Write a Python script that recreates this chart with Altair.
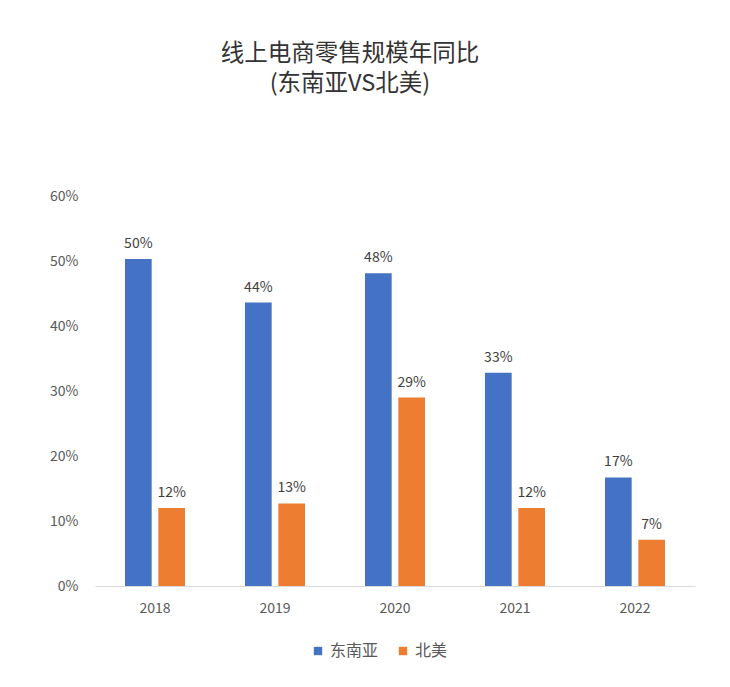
import altair as alt
import pandas as pd

years = ["2018", "2019", "2020", "2021", "2022"]
series = ["东南亚", "北美"]
sea_values = [0.503, 0.436, 0.481, 0.328, 0.167]
na_values = [0.120, 0.127, 0.290, 0.120, 0.071]
y_ticks = [0, 0.1, 0.2, 0.3, 0.4, 0.5, 0.6]

rows = []
for i, y in enumerate(years):
    rows.append({"year": y, "region": series[0], "value": sea_values[i]})
    rows.append({"year": y, "region": series[1], "value": na_values[i]})
df = pd.DataFrame(rows)

FONT = "Noto Sans CJK SC"
GREY = "#595959"

x_enc = alt.X("year:N", sort=years, title=None,
              scale=alt.Scale(paddingInner=0.5, paddingOuter=0.25),
              axis=alt.Axis(labelAngle=0, labelColor=GREY, labelFontSize=14, labelFont=FONT,
                            ticks=False, domainColor="#d9d9d9", domainWidth=1.2, labelPadding=15))
xoff = alt.XOffset("region:N", sort=series, scale=alt.Scale(paddingInner=0.2, paddingOuter=0))

base = alt.Chart(df).encode(x=x_enc, xOffset=xoff)

bars = base.mark_bar().encode(
    y=alt.Y("value:Q", title=None,
            scale=alt.Scale(domain=[0, 0.6], nice=False),
            axis=alt.Axis(values=y_ticks, format=".0%", grid=False, ticks=False, domain=False,
                          labelColor=GREY, labelFontSize=14, labelFont=FONT, labelPadding=17)),
    color=alt.Color("region:N", sort=series,
                    scale=alt.Scale(domain=series, range=["#4472C4", "#ED7D31"]),
                    legend=alt.Legend(title=None, orient="none", direction="horizontal",
                                      legendX=215, legendY=447, symbolType="square",
                                      symbolSize=70, labelFontSize=16, labelFont=FONT,
                                      labelColor=GREY, columnPadding=16, symbolStrokeWidth=0)),
)

labels = base.mark_text(baseline="bottom", dy=-8, fontSize=14, font=FONT, color="#404040").encode(
    y="value:Q",
    text=alt.Text("value:Q", format=".0%"),
)

chart = (bars + labels).properties(
    width=600, height=390,
    background="white",
    title=alt.TitleParams(text="线上电商零售规模年同比", subtitle="(东南亚VS北美)", anchor="middle",
                          dx=-45, offset=94, fontSize=23.5, font=FONT, fontWeight="normal",
                          color="#333333", subtitleFontSize=23.5, subtitleFont=FONT,
                          subtitleColor="#333333", subtitlePadding=6),
    autosize=alt.AutoSizeParams(type="none"),
    padding={"left": 95, "top": 196, "right": 35, "bottom": 101},
).configure_view(stroke="transparent", strokeWidth=0)

chart.save("out.html", embed_options={"renderer": "svg", "actions": False})
